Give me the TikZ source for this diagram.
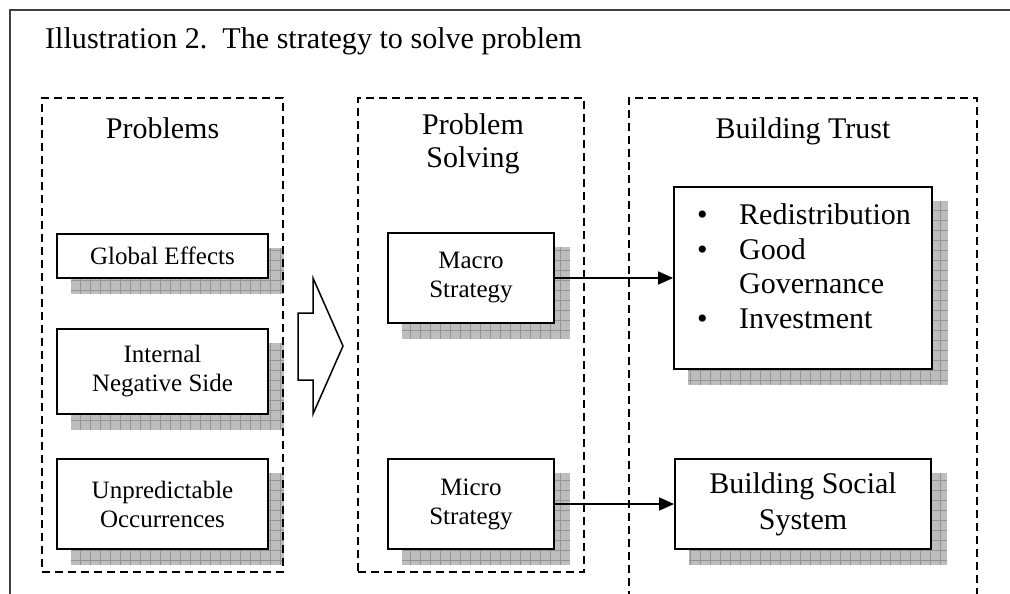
\documentclass[tikz,border=0pt]{standalone}
\usepackage{fontspec}
\setmainfont{Liberation Serif}
\usetikzlibrary{arrows.meta,backgrounds}
\newcommand\boxshadow[1]{%
  \fill[shadowfill] ([shift={(15,15)}]#1.north west) rectangle ([shift={(15,15)}]#1.south east);
  \begin{scope}
    \clip ([shift={(15,15)}]#1.north west) rectangle ([shift={(15,15)}]#1.south east);
    \draw[shadowgrid, step=10pt] ([shift={(15,15)}]#1.north west) grid ([shift={(15,15)}]#1.south east);
  \end{scope}}
\begin{document}
\begin{tikzpicture}[x=1pt,y=-1pt,
  shadowfill/.style={fill=black!26},
  shadowgrid/.style={draw=black!42, line width=0.6pt},
  dashbox/.style={draw, line width=1.4pt, dash pattern=on 8pt off 5pt, inner sep=0pt},
  ibox/.style={draw, fill=white, line width=1.8pt, inner sep=0pt, align=center,
    font=\fontsize{25}{29}\selectfont},
  bigtext/.style={font=\fontsize{30}{34.7}\selectfont},
  conn/.style={line width=1.5pt, -{Triangle[length=15pt,width=13pt]}},
  hollow/.style={draw, line width=1.5pt, fill=white},
  frame/.style={draw=black!75, line width=1.8pt}
]
\useasboundingbox (0,0) rectangle (1010,594);

% outer frame (top and left edges)
\coordinate (ftl) at (10,10);
\coordinate (ftr) at (1012,10);
\coordinate (fbl) at (10,600);
\draw[frame] (ftr) -- (ftl) -- (fbl);

% title
\node[anchor=base west, inner sep=0pt, font=\fontsize{30.1}{34}\selectfont] (title) at (45,49)
  {Illustration 2.\ \ The strategy to solve problem};

% dashed group boxes
\node[dashbox, minimum width=241pt, minimum height=474pt] (grp1) at (162.5,335) {};
\node[dashbox, minimum width=226pt, minimum height=474pt] (grp2) at (471,335) {};
\node[dashbox, minimum width=348pt, minimum height=540pt] (grp3) at (803,368) {};

% headings
\node[bigtext, anchor=base, inner sep=0pt] (h1) at (162.5,138) {Problems};
\node[font=\fontsize{30}{33}\selectfont, anchor=north, inner sep=0pt, align=center] (h2) at (473,113.5) {Problem\\Solving};
\node[bigtext, anchor=base, inner sep=0pt] (h3) at (803,138) {Building Trust};

% inner boxes
\node[ibox, minimum width=211pt, minimum height=44pt] (ge) at (162.5,256) {Global Effects};
\node[ibox, minimum width=211pt, minimum height=85pt] (ins) at (162.5,371.5) {Internal\\Negative Side};
\node[ibox, minimum width=211pt, minimum height=90pt] (unp) at (162.5,504) {Unpredictable\\Occurrences};
\node[ibox, minimum width=166pt, minimum height=90pt] (mac) at (471,278) {Macro\\Strategy};
\node[ibox, minimum width=166pt, minimum height=90pt] (mic) at (471,504) {Micro\\Strategy};
\node[ibox, minimum width=258pt, minimum height=182pt] (trust) at (803,278) {};
\node[ibox, minimum width=256pt, minimum height=90pt, font=\fontsize{30}{36}\selectfont] (bss) at (803,504) {Building Social\\System};

% bullet list inside trust box
\node[bigtext, anchor=north west, inner sep=0pt, align=left] (tlist) at (697,203.5)
  {\makebox[42pt][l]{•}Redistribution\\
   \makebox[42pt][l]{•}Good\\
   \hspace*{42pt}Governance\\
   \makebox[42pt][l]{•}Investment};

% background and shadows
\begin{scope}[on background layer]
  \fill[white] (0,0) rectangle (1010,594);
  \boxshadow{ge}
  \boxshadow{ins}
  \boxshadow{unp}
  \boxshadow{mac}
  \boxshadow{mic}
  \boxshadow{trust}
  \boxshadow{bss}
\end{scope}

% big hollow arrow
\draw[hollow] (298,313) -- (313,313) -- (313,278) -- (343,346) -- (313,414) -- (313,380) -- (298,380) -- cycle;

% connectors
\draw[conn] (mac.east) -- (trust.west);
\draw[conn] (mic.east) -- (bss.west);
\end{tikzpicture}
\end{document}
